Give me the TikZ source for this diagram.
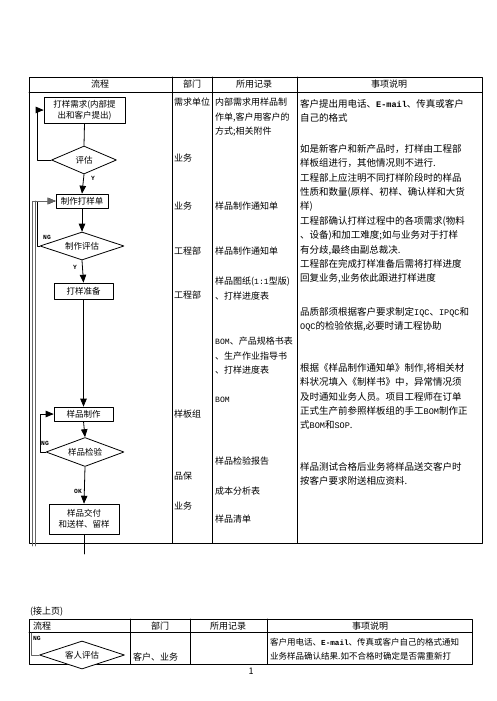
\documentclass[tikz,border=0pt]{standalone}
\usepackage{fontspec}
\setmainfont{Noto Sans CJK SC}
\setmonofont[Scale=0.9]{Liberation Mono}
\usetikzlibrary{arrows,shapes.geometric}

\tikzset{
  box/.style={draw,line width=0.8pt,inner sep=1pt,align=center,font=\fontsize{8.5}{11}\selectfont},
  dec/.style={draw,diamond,aspect=3,line width=0.8pt,inner sep=0pt,font=\fontsize{8.5}{11}\selectfont},
  txt/.style={anchor=north west,inner sep=0pt,align=left,font=\fontsize{9.5}{14.4}\selectfont},
  cell/.style={txt,font=\fontsize{9}{14.4}\selectfont},
  head/.style={inner sep=0pt,font=\fontsize{9}{11}\selectfont},
  tag/.style={inner sep=0pt,font=\fontsize{7}{8}\selectfont\ttfamily\bfseries},
  rule/.style={line width=0.8pt},
}

\begin{document}
\begin{tikzpicture}[line cap=round,line join=round,>=triangle 45,x=1pt,y=-1pt]
	\useasboundingbox (0,0) rectangle (496,701);
	% first table
	\draw[rule] (29,77) rectangle (482,543);
	\draw[rule] (29,92) -- (482,92);
	\foreach \x in {172,212,297} \draw[rule] (\x,77) -- (\x,543);
	\node[head] (hflow) at (100,84.5) {流程};
	\node[head] (hdept) at (192,84.5) {部门};
	\node[head] (hrec) at (254,84.5) {所用记录};
	\node[head] (hnote) at (389,84.5) {事项说明};
	% flow
	\node[box,minimum width=81pt,minimum height=26pt] (req) at (84.5,110) {打样需求(内部提\\出和客户提出)};
	\node[dec,minimum width=65pt,minimum height=28pt] (eval) at (84,160) {评估};
	\node[box,minimum width=52pt,minimum height=14pt] (form) at (82,201) {制作打样单};
	\node[dec,minimum width=84pt,minimum height=28pt] (mkeval) at (82,246) {制作评估};
	\node[box,minimum width=59pt,minimum height=16pt] (prep) at (83.5,291) {打样准备};
	\node[box,minimum width=59pt,minimum height=14pt] (make) at (83.5,414) {样品制作};
	\node[dec,minimum width=78pt,minimum height=29pt] (check) at (85,452) {样品检验};
	\node[box,minimum width=70pt,minimum height=30pt] (deliver) at (84,519) {样品交付\\和送样、留样};
	\node[tag] (ya) at (93,178) {Y};
	\node[tag] (nga) at (47,237) {NG};
	\node[tag] (yb) at (75,267) {Y};
	\node[tag] (ngb) at (45,443) {NG};
	\node[tag] (okb) at (78,491) {OK};
	\coordinate (tail) at (84,554);
	\coordinate (backa) at (32,546);
	\coordinate (backb) at (35,546);
	\draw[rule] (req.south) -- (eval.north);
	\draw[rule,->] (eval.south) -- (form.north);
	\draw[rule,->] (eval.west) -- ++(-14,0) |- (req.west);
	\draw[rule,->] (form.south) -- (mkeval.north);
	\draw[rule,->] (mkeval.south) -- (prep.north);
	\draw[rule,->] (mkeval.west) -- ++(-2,0) |- (form.west);
	\draw[rule,->] (prep.south) -- (make.north);
	\draw[rule,->] (make.south) -- (check.north);
	\draw[rule,->] (check.west) -- ++(-5,0) |- (make.west);
	\draw[rule,->] (check.south) -- (deliver.north);
	\draw[rule] (deliver.south) -- (tail);
	\draw[rule,black!60,->] (backa) |- (form.west);
	\draw[rule,black!60] (backb) -- (backb |- form.west);
	% department
	\node[cell] (d1) at (174,98) {需求单位};
	\node[cell] (d2) at (174,154) {业务};
	\node[cell] (d3) at (174,202) {业务};
	\node[cell] (d4) at (174,247) {工程部};
	\node[cell] (d5) at (174,291) {工程部};
	\node[cell] (d6) at (174,410) {样板组};
	\node[cell] (d7) at (174,472) {品保};
	\node[cell] (d8) at (174,502) {业务};
	% records
	\node[cell] (r1) at (215,98) {内部需求用样品制\\作单,客户用客户的\\方式;相关附件};
	\node[cell] (r2) at (215,202) {样品制作通知单};
	\node[cell] (r3) at (215,247) {样品制作通知单};
	\node[cell] (r4) at (215,277) {样品图纸(\texttt{1:1}型版)\\、打样进度表};
	\node[cell] (r5) at (215,337) {\texttt{BOM}、产品规格书表\\、生产作业指导书\\、打样进度表};
	\node[cell] (r6) at (215,397) {\texttt{BOM}};
	\node[cell] (r7) at (215,457) {样品检验报告};
	\node[cell] (r8) at (215,487) {成本分析表};
	\node[cell] (r9) at (215,515) {样品清单};
	% notes
	\node[txt] (n1) at (300,99) {客户提出用电话、\textbf{\texttt{E-mail}}、传真或客户\\自己的格式};
	\node[txt] (n2) at (300,144) {如是新客户和新产品时，打样由工程部\\样板组进行，其他情况则不进行.\\工程部上应注明不同打样阶段时的样品\\性质和数量(原样、初样、确认样和大货\\样)\\工程部确认打样过程中的各项需求(物料\\、设备)和加工难度;如与业务对于打样\\有分歧,最终由副总裁决.\\工程部在完成打样准备后需将打样进度\\回复业务,业务依此跟进打样进度};
	\node[txt] (n3) at (300,307) {品质部须根据客户要求制定\texttt{IQC}、\texttt{IPQC}和\\\texttt{OQC}的检验依据,必要时请工程协助};
	\node[txt] (n4) at (300,363) {根据《样品制作通知单》制作,将相关材\\料状况填入《制样书》中，异常情况须\\及时通知业务人员。项目工程师在订单\\正式生产前参照样板组的手工\texttt{BOM}制作正\\式\texttt{BOM}和\texttt{SOP}.};
	\node[txt] (n5) at (300,462) {样品测试合格后业务将样品送交客户时\\按客户要求附送相应资料.};
	% second table
	\node[cell,anchor=west] (cont) at (30,612) {(接上页)};
	\draw[rule] (29,619) rectangle (472,664);
	\draw[rule] (29,632.5) -- (472,632.5);
	\foreach \x in {130,190,267} \draw[rule] (\x,619) -- (\x,664);
	\node[head,anchor=west] (tflow) at (33,626) {流程};
	\node[head] (tdept) at (160,626) {部门};
	\node[head] (trec) at (228,626) {所用记录};
	\node[head] (tnote) at (370,626) {事项说明};
	\node[dec,fill=white,minimum width=85pt,minimum height=28pt] (client) at (82,655) {客人评估};
	\node[tag,anchor=west] (ngc) at (33,638) {NG};
	\coordinate (ngtop) at (31,633);
	\draw[rule,black!60] (ngtop) |- (client.west);
	\node[cell] (cd) at (133,653) {客户、业务};
	\node[cell,font=\fontsize{8.5}{14}\selectfont] (cn) at (270,638) {客户用电话、\textbf{\texttt{E-mail}}、传真或客户自己的格式通知\\业务样品确认结果.如不合格时确定是否需重新打};
	\node[head] (pageno) at (251,671) {1};
\end{tikzpicture}
\end{document}
